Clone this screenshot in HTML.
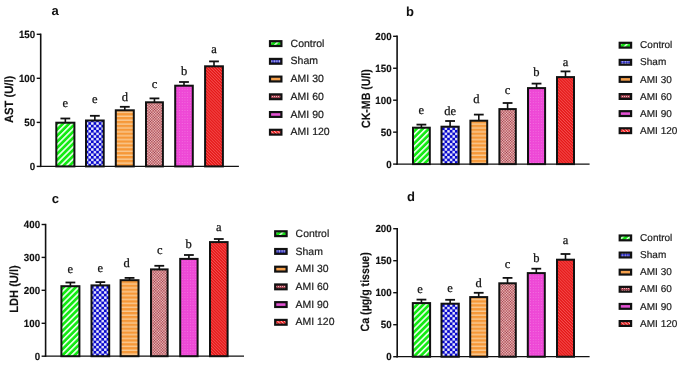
<!DOCTYPE html>
<html><head><meta charset="utf-8"><style>
html,body{margin:0;padding:0;background:#fff;width:685px;height:365px;overflow:hidden}
svg{display:block;filter:blur(0.3px)}
text{text-rendering:geometricPrecision}
</style></head><body>
<svg width="685" height="365" viewBox="0 0 685 365">
<rect width="685" height="365" fill="#fff"/>

<defs>
 <pattern id="pg" patternUnits="userSpaceOnUse" width="4.3" height="4.3" patternTransform="rotate(45)">
  <rect width="4.3" height="4.3" fill="#12ea12"/><rect x="0" y="0" width="1.6" height="4.3" fill="#f0fff0"/>
 </pattern>
 <pattern id="pb" patternUnits="userSpaceOnUse" width="5.2" height="5.2">
  <rect width="5.2" height="5.2" fill="#0808cc"/><rect x="0.1" y="0.1" width="2.4" height="2.4" fill="#f4f4ff"/><rect x="2.7" y="2.7" width="2.4" height="2.4" fill="#f4f4ff"/>
 </pattern>
 <pattern id="po" patternUnits="userSpaceOnUse" width="4" height="3.9">
  <rect width="4" height="3.9" fill="#f69838"/><rect x="0" y="2.4" width="4" height="1.5" fill="#f9c890"/>
 </pattern>
 <pattern id="pr" patternUnits="userSpaceOnUse" width="1.9" height="1.9" patternTransform="rotate(45)">
  <rect width="1.9" height="1.9" fill="#d08284"/><rect x="0" y="0" width="0.95" height="0.95" fill="#9c3848"/><rect x="0.95" y="0.95" width="0.95" height="0.95" fill="#f2cccc"/>
 </pattern>
 <pattern id="pm" patternUnits="userSpaceOnUse" width="2.7" height="2.6">
  <rect width="2.7" height="2.6" fill="#ee48d6"/><circle cx="1.35" cy="1.3" r="0.5" fill="#f47ce2"/>
 </pattern>
 <pattern id="pd" patternUnits="userSpaceOnUse" width="2.1" height="2.1" patternTransform="rotate(-45)">
  <rect width="2.1" height="2.1" fill="#e41414"/><rect x="0" y="0" width="0.9" height="2.1" fill="#f45050"/>
 </pattern>
  <pattern id="lg" patternUnits="userSpaceOnUse" width="4.6" height="4.6" patternTransform="rotate(45)">
  <rect width="4.6" height="4.6" fill="#14e014"/><rect x="0" y="0" width="1.4" height="4.6" fill="#f0fff0"/>
 </pattern>
 <pattern id="lb" patternUnits="userSpaceOnUse" width="2.6" height="2.6">
  <rect width="2.6" height="2.6" fill="#1a1ab4"/><circle cx="1.3" cy="1.3" r="0.9" fill="#e8e8ff"/>
 </pattern>
 <pattern id="lo" patternUnits="userSpaceOnUse" width="4" height="4"><rect width="4" height="4" fill="#f5a04c"/></pattern>
 <pattern id="lr" patternUnits="userSpaceOnUse" width="2" height="2"><rect width="2" height="2" fill="#a04050"/><rect width="1" height="1" fill="#f0b4b4"/></pattern>
 <pattern id="lm" patternUnits="userSpaceOnUse" width="4" height="4"><rect width="4" height="4" fill="#e452d4"/></pattern>
 <pattern id="ld" patternUnits="userSpaceOnUse" width="2.4" height="2.4" patternTransform="rotate(-45)"><rect width="2.4" height="2.4" fill="#ec1c1c"/><rect width="0.9" height="2.4" fill="#ffb4b4"/></pattern>
</defs>

<text x="51.5" y="15.4" font-family='"Liberation Sans", sans-serif' font-weight="bold" font-size="13" fill="#111">a</text>
<line x1="40.7" y1="33.599999999999994" x2="40.7" y2="167.1" stroke="#111" stroke-width="1.6"/>
<line x1="39.900000000000006" y1="166.4" x2="238.9" y2="166.4" stroke="#111" stroke-width="1.25"/>
<line x1="36.7" y1="34.3" x2="40.7" y2="34.3" stroke="#111" stroke-width="1.4"/>
<text transform="translate(35.20,37.70) scale(0.94,1)" text-anchor="end" font-family='"Liberation Sans", sans-serif' font-weight="bold" font-size="10.4" fill="#111" stroke="#111" stroke-width="0.15">150</text>
<line x1="36.7" y1="78.3" x2="40.7" y2="78.3" stroke="#111" stroke-width="1.4"/>
<text transform="translate(35.20,81.70) scale(0.94,1)" text-anchor="end" font-family='"Liberation Sans", sans-serif' font-weight="bold" font-size="10.4" fill="#111" stroke="#111" stroke-width="0.15">100</text>
<line x1="36.7" y1="122.4" x2="40.7" y2="122.4" stroke="#111" stroke-width="1.4"/>
<text transform="translate(35.20,125.80) scale(0.94,1)" text-anchor="end" font-family='"Liberation Sans", sans-serif' font-weight="bold" font-size="10.4" fill="#111" stroke="#111" stroke-width="0.15">50</text>
<line x1="36.7" y1="166.4" x2="40.7" y2="166.4" stroke="#111" stroke-width="1.4"/>
<text transform="translate(35.20,169.80) scale(0.94,1)" text-anchor="end" font-family='"Liberation Sans", sans-serif' font-weight="bold" font-size="10.4" fill="#111" stroke="#111" stroke-width="0.15">0</text>
<text transform="translate(9.0,99.4) rotate(-90)" text-anchor="middle" dominant-baseline="central" textLength="47.4" lengthAdjust="spacingAndGlyphs" font-family='"Liberation Sans", sans-serif' font-weight="bold" font-size="12" fill="#111" stroke="#111" stroke-width="0.15">AST (U/l)</text>
<line x1="65.35" y1="118.50" x2="65.35" y2="123.00" stroke="#111" stroke-width="1.6"/>
<line x1="60.45" y1="118.50" x2="70.25" y2="118.50" stroke="#111" stroke-width="1.8"/>
<rect x="56.30" y="122.70" width="18.10" height="43.70" fill="url(#pg)" stroke="#111" stroke-width="2.0"/>
<text x="65.35" y="107.0" text-anchor="middle" font-family='"Liberation Serif", serif' font-size="12.5" fill="#111" stroke="#111" stroke-width="0.25">e</text>
<line x1="94.85" y1="115.80" x2="94.85" y2="120.80" stroke="#111" stroke-width="1.6"/>
<line x1="89.95" y1="115.80" x2="99.75" y2="115.80" stroke="#111" stroke-width="1.8"/>
<rect x="86.00" y="120.50" width="17.70" height="45.90" fill="url(#pb)" stroke="#111" stroke-width="2.0"/>
<text x="94.85" y="103.4" text-anchor="middle" font-family='"Liberation Serif", serif' font-size="12.5" fill="#111" stroke="#111" stroke-width="0.25">e</text>
<line x1="124.80" y1="106.80" x2="124.80" y2="110.60" stroke="#111" stroke-width="1.6"/>
<line x1="119.90" y1="106.80" x2="129.70" y2="106.80" stroke="#111" stroke-width="1.8"/>
<rect x="115.80" y="110.30" width="18.00" height="56.10" fill="url(#po)" stroke="#111" stroke-width="2.0"/>
<text x="124.80" y="100.5" text-anchor="middle" font-family='"Liberation Serif", serif' font-size="12.5" fill="#111" stroke="#111" stroke-width="0.25">d</text>
<line x1="154.45" y1="98.40" x2="154.45" y2="102.60" stroke="#111" stroke-width="1.6"/>
<line x1="149.55" y1="98.40" x2="159.35" y2="98.40" stroke="#111" stroke-width="1.8"/>
<rect x="146.00" y="102.30" width="16.90" height="64.10" fill="url(#pr)" stroke="#111" stroke-width="2.0"/>
<text x="154.45" y="87.5" text-anchor="middle" font-family='"Liberation Serif", serif' font-size="12.5" fill="#111" stroke="#111" stroke-width="0.25">c</text>
<line x1="184.00" y1="82.00" x2="184.00" y2="86.00" stroke="#111" stroke-width="1.6"/>
<line x1="179.10" y1="82.00" x2="188.90" y2="82.00" stroke="#111" stroke-width="1.8"/>
<rect x="175.20" y="85.70" width="17.60" height="80.70" fill="url(#pm)" stroke="#111" stroke-width="2.0"/>
<text x="184.00" y="75.0" text-anchor="middle" font-family='"Liberation Serif", serif' font-size="12.5" fill="#111" stroke="#111" stroke-width="0.25">b</text>
<line x1="214.00" y1="61.40" x2="214.00" y2="66.60" stroke="#111" stroke-width="1.6"/>
<line x1="209.10" y1="61.40" x2="218.90" y2="61.40" stroke="#111" stroke-width="1.8"/>
<rect x="205.10" y="66.30" width="17.80" height="100.10" fill="url(#pd)" stroke="#111" stroke-width="2.0"/>
<text x="214.00" y="53.2" text-anchor="middle" font-family='"Liberation Serif", serif' font-size="12.5" fill="#111" stroke="#111" stroke-width="0.25">a</text>
<rect x="270.00" y="41.20" width="11.4" height="4.8" fill="url(#lg)" stroke="#111" stroke-width="2.2"/>
<text x="290.6" y="46.75" font-family='"Liberation Sans", sans-serif' font-size="10.5" fill="#1a1a1a" stroke="#1a1a1a" stroke-width="0.2">Control</text>
<rect x="270.00" y="58.92" width="11.4" height="4.8" fill="url(#lb)" stroke="#111" stroke-width="2.2"/>
<text x="290.6" y="64.47" font-family='"Liberation Sans", sans-serif' font-size="10.5" fill="#1a1a1a" stroke="#1a1a1a" stroke-width="0.2">Sham</text>
<rect x="270.00" y="76.64" width="11.4" height="4.8" fill="url(#lo)" stroke="#111" stroke-width="2.2"/>
<text x="290.6" y="82.19" font-family='"Liberation Sans", sans-serif' font-size="10.5" fill="#1a1a1a" stroke="#1a1a1a" stroke-width="0.2">AMI 30</text>
<rect x="270.00" y="94.36" width="11.4" height="4.8" fill="url(#lr)" stroke="#111" stroke-width="2.2"/>
<text x="290.6" y="99.91" font-family='"Liberation Sans", sans-serif' font-size="10.5" fill="#1a1a1a" stroke="#1a1a1a" stroke-width="0.2">AMI 60</text>
<rect x="270.00" y="112.08" width="11.4" height="4.8" fill="url(#lm)" stroke="#111" stroke-width="2.2"/>
<text x="290.6" y="117.63" font-family='"Liberation Sans", sans-serif' font-size="10.5" fill="#1a1a1a" stroke="#1a1a1a" stroke-width="0.2">AMI 90</text>
<rect x="270.00" y="129.80" width="11.4" height="4.8" fill="url(#ld)" stroke="#111" stroke-width="2.2"/>
<text x="290.6" y="135.35" font-family='"Liberation Sans", sans-serif' font-size="10.5" fill="#1a1a1a" stroke="#1a1a1a" stroke-width="0.2">AMI 120</text>
<text x="406.0" y="15.6" font-family='"Liberation Sans", sans-serif' font-weight="bold" font-size="13" fill="#111">b</text>
<line x1="397.1" y1="35.599999999999994" x2="397.1" y2="164.79999999999998" stroke="#111" stroke-width="1.6"/>
<line x1="396.3" y1="164.1" x2="589.6" y2="164.1" stroke="#111" stroke-width="1.25"/>
<line x1="393.1" y1="36.3" x2="397.1" y2="36.3" stroke="#111" stroke-width="1.4"/>
<text transform="translate(391.60,39.70) scale(0.94,1)" text-anchor="end" font-family='"Liberation Sans", sans-serif' font-weight="bold" font-size="10.4" fill="#111" stroke="#111" stroke-width="0.15">200</text>
<line x1="393.1" y1="68.25" x2="397.1" y2="68.25" stroke="#111" stroke-width="1.4"/>
<text transform="translate(391.60,71.65) scale(0.94,1)" text-anchor="end" font-family='"Liberation Sans", sans-serif' font-weight="bold" font-size="10.4" fill="#111" stroke="#111" stroke-width="0.15">150</text>
<line x1="393.1" y1="100.2" x2="397.1" y2="100.2" stroke="#111" stroke-width="1.4"/>
<text transform="translate(391.60,103.60) scale(0.94,1)" text-anchor="end" font-family='"Liberation Sans", sans-serif' font-weight="bold" font-size="10.4" fill="#111" stroke="#111" stroke-width="0.15">100</text>
<line x1="393.1" y1="132.15" x2="397.1" y2="132.15" stroke="#111" stroke-width="1.4"/>
<text transform="translate(391.60,135.55) scale(0.94,1)" text-anchor="end" font-family='"Liberation Sans", sans-serif' font-weight="bold" font-size="10.4" fill="#111" stroke="#111" stroke-width="0.15">50</text>
<line x1="393.1" y1="164.1" x2="397.1" y2="164.1" stroke="#111" stroke-width="1.4"/>
<text transform="translate(391.60,167.50) scale(0.94,1)" text-anchor="end" font-family='"Liberation Sans", sans-serif' font-weight="bold" font-size="10.4" fill="#111" stroke="#111" stroke-width="0.15">0</text>
<text transform="translate(365.6,98.6) rotate(-90)" text-anchor="middle" dominant-baseline="central" textLength="58.8" lengthAdjust="spacingAndGlyphs" font-family='"Liberation Sans", sans-serif' font-weight="bold" font-size="12" fill="#111" stroke="#111" stroke-width="0.15">CK-MB (U/l)</text>
<line x1="421.40" y1="124.60" x2="421.40" y2="128.00" stroke="#111" stroke-width="1.6"/>
<line x1="416.50" y1="124.60" x2="426.30" y2="124.60" stroke="#111" stroke-width="1.8"/>
<rect x="413.00" y="127.70" width="16.80" height="36.40" fill="url(#pg)" stroke="#111" stroke-width="2.0"/>
<text x="421.40" y="114.0" text-anchor="middle" font-family='"Liberation Serif", serif' font-size="12.5" fill="#111" stroke="#111" stroke-width="0.25">e</text>
<line x1="450.10" y1="121.00" x2="450.10" y2="127.00" stroke="#111" stroke-width="1.6"/>
<line x1="445.20" y1="121.00" x2="455.00" y2="121.00" stroke="#111" stroke-width="1.8"/>
<rect x="441.50" y="126.70" width="17.20" height="37.40" fill="url(#pb)" stroke="#111" stroke-width="2.0"/>
<text x="450.10" y="114.5" text-anchor="middle" font-family='"Liberation Serif", serif' font-size="12.5" fill="#111" stroke="#111" stroke-width="0.25">de</text>
<line x1="478.80" y1="114.60" x2="478.80" y2="121.00" stroke="#111" stroke-width="1.6"/>
<line x1="473.90" y1="114.60" x2="483.70" y2="114.60" stroke="#111" stroke-width="1.8"/>
<rect x="470.40" y="120.70" width="16.80" height="43.40" fill="url(#po)" stroke="#111" stroke-width="2.0"/>
<text x="476.30" y="103.0" text-anchor="middle" font-family='"Liberation Serif", serif' font-size="12.5" fill="#111" stroke="#111" stroke-width="0.25">d</text>
<line x1="507.60" y1="103.00" x2="507.60" y2="109.40" stroke="#111" stroke-width="1.6"/>
<line x1="502.70" y1="103.00" x2="512.50" y2="103.00" stroke="#111" stroke-width="1.8"/>
<rect x="499.40" y="109.10" width="16.40" height="55.00" fill="url(#pr)" stroke="#111" stroke-width="2.0"/>
<text x="507.60" y="93.5" text-anchor="middle" font-family='"Liberation Serif", serif' font-size="12.5" fill="#111" stroke="#111" stroke-width="0.25">c</text>
<line x1="536.55" y1="83.60" x2="536.55" y2="88.40" stroke="#111" stroke-width="1.6"/>
<line x1="531.65" y1="83.60" x2="541.45" y2="83.60" stroke="#111" stroke-width="1.8"/>
<rect x="528.00" y="88.10" width="17.10" height="76.00" fill="url(#pm)" stroke="#111" stroke-width="2.0"/>
<text x="536.25" y="75.5" text-anchor="middle" font-family='"Liberation Serif", serif' font-size="12.5" fill="#111" stroke="#111" stroke-width="0.25">b</text>
<line x1="565.50" y1="71.40" x2="565.50" y2="77.40" stroke="#111" stroke-width="1.6"/>
<line x1="560.60" y1="71.40" x2="570.40" y2="71.40" stroke="#111" stroke-width="1.8"/>
<rect x="557.00" y="77.10" width="17.00" height="87.00" fill="url(#pd)" stroke="#111" stroke-width="2.0"/>
<text x="565.50" y="65.8" text-anchor="middle" font-family='"Liberation Serif", serif' font-size="12.5" fill="#111" stroke="#111" stroke-width="0.25">a</text>
<rect x="619.70" y="42.80" width="11.4" height="4.8" fill="url(#lg)" stroke="#111" stroke-width="2.2"/>
<text x="640.1" y="48.35" font-family='"Liberation Sans", sans-serif' font-size="10.0" fill="#1a1a1a" stroke="#1a1a1a" stroke-width="0.2">Control</text>
<rect x="619.70" y="59.90" width="11.4" height="4.8" fill="url(#lb)" stroke="#111" stroke-width="2.2"/>
<text x="640.1" y="65.45" font-family='"Liberation Sans", sans-serif' font-size="10.0" fill="#1a1a1a" stroke="#1a1a1a" stroke-width="0.2">Sham</text>
<rect x="619.70" y="77.00" width="11.4" height="4.8" fill="url(#lo)" stroke="#111" stroke-width="2.2"/>
<text x="640.1" y="82.55" font-family='"Liberation Sans", sans-serif' font-size="10.0" fill="#1a1a1a" stroke="#1a1a1a" stroke-width="0.2">AMI 30</text>
<rect x="619.70" y="94.10" width="11.4" height="4.8" fill="url(#lr)" stroke="#111" stroke-width="2.2"/>
<text x="640.1" y="99.65" font-family='"Liberation Sans", sans-serif' font-size="10.0" fill="#1a1a1a" stroke="#1a1a1a" stroke-width="0.2">AMI 60</text>
<rect x="619.70" y="111.20" width="11.4" height="4.8" fill="url(#lm)" stroke="#111" stroke-width="2.2"/>
<text x="640.1" y="116.75" font-family='"Liberation Sans", sans-serif' font-size="10.0" fill="#1a1a1a" stroke="#1a1a1a" stroke-width="0.2">AMI 90</text>
<rect x="619.70" y="128.30" width="11.4" height="4.8" fill="url(#ld)" stroke="#111" stroke-width="2.2"/>
<text x="640.1" y="133.85" font-family='"Liberation Sans", sans-serif' font-size="10.0" fill="#1a1a1a" stroke="#1a1a1a" stroke-width="0.2">AMI 120</text>
<text x="51.8" y="202.6" font-family='"Liberation Sans", sans-serif' font-weight="bold" font-size="13" fill="#111">c</text>
<line x1="45.6" y1="223.8" x2="45.6" y2="356.9" stroke="#111" stroke-width="1.6"/>
<line x1="44.800000000000004" y1="356.2" x2="244.0" y2="356.2" stroke="#111" stroke-width="1.25"/>
<line x1="41.6" y1="224.5" x2="45.6" y2="224.5" stroke="#111" stroke-width="1.4"/>
<text transform="translate(40.10,227.90) scale(0.94,1)" text-anchor="end" font-family='"Liberation Sans", sans-serif' font-weight="bold" font-size="10.4" fill="#111" stroke="#111" stroke-width="0.15">400</text>
<line x1="41.6" y1="257.4" x2="45.6" y2="257.4" stroke="#111" stroke-width="1.4"/>
<text transform="translate(40.10,260.80) scale(0.94,1)" text-anchor="end" font-family='"Liberation Sans", sans-serif' font-weight="bold" font-size="10.4" fill="#111" stroke="#111" stroke-width="0.15">300</text>
<line x1="41.6" y1="290.3" x2="45.6" y2="290.3" stroke="#111" stroke-width="1.4"/>
<text transform="translate(40.10,293.70) scale(0.94,1)" text-anchor="end" font-family='"Liberation Sans", sans-serif' font-weight="bold" font-size="10.4" fill="#111" stroke="#111" stroke-width="0.15">200</text>
<line x1="41.6" y1="323.3" x2="45.6" y2="323.3" stroke="#111" stroke-width="1.4"/>
<text transform="translate(40.10,326.70) scale(0.94,1)" text-anchor="end" font-family='"Liberation Sans", sans-serif' font-weight="bold" font-size="10.4" fill="#111" stroke="#111" stroke-width="0.15">100</text>
<line x1="41.6" y1="356.2" x2="45.6" y2="356.2" stroke="#111" stroke-width="1.4"/>
<text transform="translate(40.10,359.60) scale(0.94,1)" text-anchor="end" font-family='"Liberation Sans", sans-serif' font-weight="bold" font-size="10.4" fill="#111" stroke="#111" stroke-width="0.15">0</text>
<text transform="translate(13.5,289.0) rotate(-90)" text-anchor="middle" dominant-baseline="central" textLength="47.4" lengthAdjust="spacingAndGlyphs" font-family='"Liberation Sans", sans-serif' font-weight="bold" font-size="12" fill="#111" stroke="#111" stroke-width="0.15">LDH (U/l)</text>
<line x1="70.40" y1="282.50" x2="70.40" y2="286.50" stroke="#111" stroke-width="1.6"/>
<line x1="65.50" y1="282.50" x2="75.30" y2="282.50" stroke="#111" stroke-width="1.8"/>
<rect x="61.40" y="286.20" width="18.00" height="70.00" fill="url(#pg)" stroke="#111" stroke-width="2.0"/>
<text x="70.40" y="272.6" text-anchor="middle" font-family='"Liberation Serif", serif' font-size="12.5" fill="#111" stroke="#111" stroke-width="0.25">e</text>
<line x1="100.35" y1="282.10" x2="100.35" y2="285.70" stroke="#111" stroke-width="1.6"/>
<line x1="95.45" y1="282.10" x2="105.25" y2="282.10" stroke="#111" stroke-width="1.8"/>
<rect x="91.50" y="285.40" width="17.70" height="70.80" fill="url(#pb)" stroke="#111" stroke-width="2.0"/>
<text x="100.35" y="271.6" text-anchor="middle" font-family='"Liberation Serif", serif' font-size="12.5" fill="#111" stroke="#111" stroke-width="0.25">e</text>
<line x1="129.55" y1="277.90" x2="129.55" y2="280.50" stroke="#111" stroke-width="1.6"/>
<line x1="124.65" y1="277.90" x2="134.45" y2="277.90" stroke="#111" stroke-width="1.8"/>
<rect x="120.60" y="280.20" width="17.90" height="76.00" fill="url(#po)" stroke="#111" stroke-width="2.0"/>
<text x="126.65" y="266.9" text-anchor="middle" font-family='"Liberation Serif", serif' font-size="12.5" fill="#111" stroke="#111" stroke-width="0.25">d</text>
<line x1="159.30" y1="265.80" x2="159.30" y2="269.70" stroke="#111" stroke-width="1.6"/>
<line x1="154.40" y1="265.80" x2="164.20" y2="265.80" stroke="#111" stroke-width="1.8"/>
<rect x="151.00" y="269.40" width="16.60" height="86.80" fill="url(#pr)" stroke="#111" stroke-width="2.0"/>
<text x="159.70" y="253.6" text-anchor="middle" font-family='"Liberation Serif", serif' font-size="12.5" fill="#111" stroke="#111" stroke-width="0.25">c</text>
<line x1="188.90" y1="255.00" x2="188.90" y2="259.20" stroke="#111" stroke-width="1.6"/>
<line x1="184.00" y1="255.00" x2="193.80" y2="255.00" stroke="#111" stroke-width="1.8"/>
<rect x="180.20" y="258.90" width="17.40" height="97.30" fill="url(#pm)" stroke="#111" stroke-width="2.0"/>
<text x="188.60" y="247.5" text-anchor="middle" font-family='"Liberation Serif", serif' font-size="12.5" fill="#111" stroke="#111" stroke-width="0.25">b</text>
<line x1="218.80" y1="239.00" x2="218.80" y2="242.40" stroke="#111" stroke-width="1.6"/>
<line x1="213.90" y1="239.00" x2="223.70" y2="239.00" stroke="#111" stroke-width="1.8"/>
<rect x="210.00" y="242.10" width="17.60" height="114.10" fill="url(#pd)" stroke="#111" stroke-width="2.0"/>
<text x="218.80" y="230.6" text-anchor="middle" font-family='"Liberation Serif", serif' font-size="12.5" fill="#111" stroke="#111" stroke-width="0.25">a</text>
<rect x="275.20" y="231.30" width="11.4" height="4.8" fill="url(#lg)" stroke="#111" stroke-width="2.2"/>
<text x="295.6" y="236.85" font-family='"Liberation Sans", sans-serif' font-size="10.45" fill="#1a1a1a" stroke="#1a1a1a" stroke-width="0.2">Control</text>
<rect x="275.20" y="249.02" width="11.4" height="4.8" fill="url(#lb)" stroke="#111" stroke-width="2.2"/>
<text x="295.6" y="254.57" font-family='"Liberation Sans", sans-serif' font-size="10.45" fill="#1a1a1a" stroke="#1a1a1a" stroke-width="0.2">Sham</text>
<rect x="275.20" y="266.74" width="11.4" height="4.8" fill="url(#lo)" stroke="#111" stroke-width="2.2"/>
<text x="295.6" y="272.29" font-family='"Liberation Sans", sans-serif' font-size="10.45" fill="#1a1a1a" stroke="#1a1a1a" stroke-width="0.2">AMI 30</text>
<rect x="275.20" y="284.46" width="11.4" height="4.8" fill="url(#lr)" stroke="#111" stroke-width="2.2"/>
<text x="295.6" y="290.01" font-family='"Liberation Sans", sans-serif' font-size="10.45" fill="#1a1a1a" stroke="#1a1a1a" stroke-width="0.2">AMI 60</text>
<rect x="275.20" y="302.18" width="11.4" height="4.8" fill="url(#lm)" stroke="#111" stroke-width="2.2"/>
<text x="295.6" y="307.73" font-family='"Liberation Sans", sans-serif' font-size="10.45" fill="#1a1a1a" stroke="#1a1a1a" stroke-width="0.2">AMI 90</text>
<rect x="275.20" y="319.90" width="11.4" height="4.8" fill="url(#ld)" stroke="#111" stroke-width="2.2"/>
<text x="295.6" y="325.45" font-family='"Liberation Sans", sans-serif' font-size="10.45" fill="#1a1a1a" stroke="#1a1a1a" stroke-width="0.2">AMI 120</text>
<text x="407.0" y="200.6" font-family='"Liberation Sans", sans-serif' font-weight="bold" font-size="13" fill="#111">d</text>
<line x1="397.2" y1="228.0" x2="397.2" y2="357.4" stroke="#111" stroke-width="1.6"/>
<line x1="396.4" y1="356.7" x2="589.6" y2="356.7" stroke="#111" stroke-width="1.25"/>
<line x1="393.2" y1="228.7" x2="397.2" y2="228.7" stroke="#111" stroke-width="1.4"/>
<text transform="translate(391.70,232.10) scale(0.94,1)" text-anchor="end" font-family='"Liberation Sans", sans-serif' font-weight="bold" font-size="10.4" fill="#111" stroke="#111" stroke-width="0.15">200</text>
<line x1="393.2" y1="260.7" x2="397.2" y2="260.7" stroke="#111" stroke-width="1.4"/>
<text transform="translate(391.70,264.10) scale(0.94,1)" text-anchor="end" font-family='"Liberation Sans", sans-serif' font-weight="bold" font-size="10.4" fill="#111" stroke="#111" stroke-width="0.15">150</text>
<line x1="393.2" y1="292.7" x2="397.2" y2="292.7" stroke="#111" stroke-width="1.4"/>
<text transform="translate(391.70,296.10) scale(0.94,1)" text-anchor="end" font-family='"Liberation Sans", sans-serif' font-weight="bold" font-size="10.4" fill="#111" stroke="#111" stroke-width="0.15">100</text>
<line x1="393.2" y1="324.7" x2="397.2" y2="324.7" stroke="#111" stroke-width="1.4"/>
<text transform="translate(391.70,328.10) scale(0.94,1)" text-anchor="end" font-family='"Liberation Sans", sans-serif' font-weight="bold" font-size="10.4" fill="#111" stroke="#111" stroke-width="0.15">50</text>
<line x1="393.2" y1="356.7" x2="397.2" y2="356.7" stroke="#111" stroke-width="1.4"/>
<text transform="translate(391.70,360.10) scale(0.94,1)" text-anchor="end" font-family='"Liberation Sans", sans-serif' font-weight="bold" font-size="10.4" fill="#111" stroke="#111" stroke-width="0.15">0</text>
<text transform="translate(364.7,291.8) rotate(-90)" text-anchor="middle" dominant-baseline="central" textLength="79.2" lengthAdjust="spacingAndGlyphs" font-family='"Liberation Sans", sans-serif' font-weight="bold" font-size="12" fill="#111" stroke="#111" stroke-width="0.15">Ca (µg/g tissue)</text>
<line x1="421.45" y1="299.60" x2="421.45" y2="303.40" stroke="#111" stroke-width="1.6"/>
<line x1="416.55" y1="299.60" x2="426.35" y2="299.60" stroke="#111" stroke-width="1.8"/>
<rect x="412.80" y="303.10" width="17.30" height="53.60" fill="url(#pg)" stroke="#111" stroke-width="2.0"/>
<text x="420.05" y="293.1" text-anchor="middle" font-family='"Liberation Serif", serif' font-size="12.5" fill="#111" stroke="#111" stroke-width="0.25">e</text>
<line x1="450.15" y1="299.80" x2="450.15" y2="304.00" stroke="#111" stroke-width="1.6"/>
<line x1="445.25" y1="299.80" x2="455.05" y2="299.80" stroke="#111" stroke-width="1.8"/>
<rect x="441.50" y="303.70" width="17.30" height="53.00" fill="url(#pb)" stroke="#111" stroke-width="2.0"/>
<text x="450.15" y="291.9" text-anchor="middle" font-family='"Liberation Serif", serif' font-size="12.5" fill="#111" stroke="#111" stroke-width="0.25">e</text>
<line x1="478.70" y1="292.80" x2="478.70" y2="297.40" stroke="#111" stroke-width="1.6"/>
<line x1="473.80" y1="292.80" x2="483.60" y2="292.80" stroke="#111" stroke-width="1.8"/>
<rect x="470.20" y="297.10" width="17.00" height="59.60" fill="url(#po)" stroke="#111" stroke-width="2.0"/>
<text x="478.50" y="286.7" text-anchor="middle" font-family='"Liberation Serif", serif' font-size="12.5" fill="#111" stroke="#111" stroke-width="0.25">d</text>
<line x1="507.55" y1="277.90" x2="507.55" y2="283.60" stroke="#111" stroke-width="1.6"/>
<line x1="502.65" y1="277.90" x2="512.45" y2="277.90" stroke="#111" stroke-width="1.8"/>
<rect x="499.30" y="283.30" width="16.50" height="73.40" fill="url(#pr)" stroke="#111" stroke-width="2.0"/>
<text x="507.55" y="267.5" text-anchor="middle" font-family='"Liberation Serif", serif' font-size="12.5" fill="#111" stroke="#111" stroke-width="0.25">c</text>
<line x1="536.30" y1="268.70" x2="536.30" y2="273.40" stroke="#111" stroke-width="1.6"/>
<line x1="531.40" y1="268.70" x2="541.20" y2="268.70" stroke="#111" stroke-width="1.8"/>
<rect x="527.80" y="273.10" width="17.00" height="83.60" fill="url(#pm)" stroke="#111" stroke-width="2.0"/>
<text x="536.30" y="262.0" text-anchor="middle" font-family='"Liberation Serif", serif' font-size="12.5" fill="#111" stroke="#111" stroke-width="0.25">b</text>
<line x1="565.50" y1="254.00" x2="565.50" y2="260.00" stroke="#111" stroke-width="1.6"/>
<line x1="560.60" y1="254.00" x2="570.40" y2="254.00" stroke="#111" stroke-width="1.8"/>
<rect x="557.00" y="259.70" width="17.00" height="97.00" fill="url(#pd)" stroke="#111" stroke-width="2.0"/>
<text x="565.50" y="243.7" text-anchor="middle" font-family='"Liberation Serif", serif' font-size="12.5" fill="#111" stroke="#111" stroke-width="0.25">a</text>
<rect x="619.70" y="235.50" width="11.4" height="4.8" fill="url(#lg)" stroke="#111" stroke-width="2.2"/>
<text x="640.1" y="241.05" font-family='"Liberation Sans", sans-serif' font-size="10.0" fill="#1a1a1a" stroke="#1a1a1a" stroke-width="0.2">Control</text>
<rect x="619.70" y="252.62" width="11.4" height="4.8" fill="url(#lb)" stroke="#111" stroke-width="2.2"/>
<text x="640.1" y="258.17" font-family='"Liberation Sans", sans-serif' font-size="10.0" fill="#1a1a1a" stroke="#1a1a1a" stroke-width="0.2">Sham</text>
<rect x="619.70" y="269.74" width="11.4" height="4.8" fill="url(#lo)" stroke="#111" stroke-width="2.2"/>
<text x="640.1" y="275.29" font-family='"Liberation Sans", sans-serif' font-size="10.0" fill="#1a1a1a" stroke="#1a1a1a" stroke-width="0.2">AMI 30</text>
<rect x="619.70" y="286.86" width="11.4" height="4.8" fill="url(#lr)" stroke="#111" stroke-width="2.2"/>
<text x="640.1" y="292.41" font-family='"Liberation Sans", sans-serif' font-size="10.0" fill="#1a1a1a" stroke="#1a1a1a" stroke-width="0.2">AMI 60</text>
<rect x="619.70" y="303.98" width="11.4" height="4.8" fill="url(#lm)" stroke="#111" stroke-width="2.2"/>
<text x="640.1" y="309.53" font-family='"Liberation Sans", sans-serif' font-size="10.0" fill="#1a1a1a" stroke="#1a1a1a" stroke-width="0.2">AMI 90</text>
<rect x="619.70" y="321.10" width="11.4" height="4.8" fill="url(#ld)" stroke="#111" stroke-width="2.2"/>
<text x="640.1" y="326.65" font-family='"Liberation Sans", sans-serif' font-size="10.0" fill="#1a1a1a" stroke="#1a1a1a" stroke-width="0.2">AMI 120</text>
</svg>
</body></html>
